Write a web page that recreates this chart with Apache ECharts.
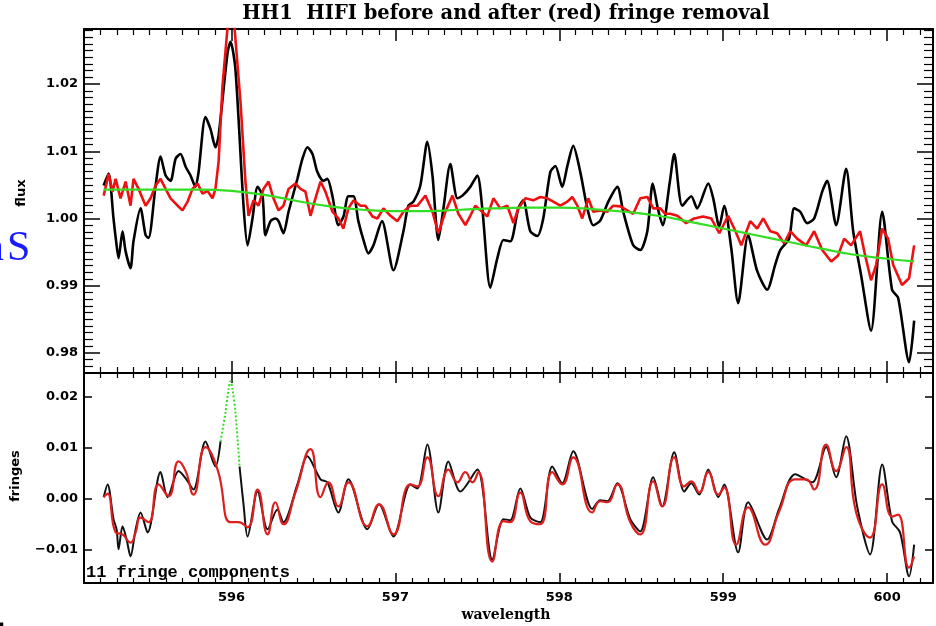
<!DOCTYPE html>
<html>
<head>
<meta charset="utf-8">
<title>HH1 HIFI fringe removal</title>
<script src="https://cdn.jsdelivr.net/npm/echarts@6/dist/echarts.min.js"></script>
<style>
  html, body { margin: 0; padding: 0; background: #fff; }
  #chart { width: 936px; height: 626px; }
</style>
</head>
<body>
<div id="chart"></div>
<script>
// tick labels
var waveTicks = [596, 597, 598, 599, 600];
var fluxTicks = [0.98, 0.99, 1.00, 1.01, 1.02];
var fringeTicks = [-0.01, 0.00, 0.01, 0.02];

// top panel: flux before fringe removal (black)
var fluxBefore = [
  [595.220, 1.0049], [595.250, 1.0067], [595.280, 1.0000], [595.296, 0.9966], [595.311, 0.9941],
  [595.335, 0.9981], [595.354, 0.9951], [595.384, 0.9926], [595.402, 0.9966], [595.445, 1.0015],
  [595.476, 0.9975], [595.494, 0.9971], [595.537, 1.0049], [595.567, 1.0092], [595.598, 1.0064],
  [595.628, 1.0056], [595.659, 1.0089], [595.689, 1.0096], [595.720, 1.0077], [595.750, 1.0064],
  [595.780, 1.0047], [595.799, 1.0069], [595.841, 1.0151], [595.872, 1.0133], [595.902, 1.0106],
  [595.921, 1.0123], [595.976, 1.0247], [595.994, 1.0263], [596.024, 1.0222], [596.073, 1.0020],
  [596.098, 0.9960], [596.128, 1.0000], [596.159, 1.0047], [596.189, 1.0034], [596.207, 0.9975],
  [596.238, 0.9996], [596.268, 1.0000], [596.287, 0.9996], [596.317, 0.9978], [596.348, 1.0010],
  [596.402, 1.0059], [596.433, 1.0089], [596.463, 1.0106], [596.494, 1.0096], [596.524, 1.0069],
  [596.561, 1.0056], [596.585, 1.0059], [596.616, 1.0033], [596.652, 0.9990], [596.683, 1.0003],
  [596.713, 1.0033], [596.744, 1.0033], [596.774, 0.9996], [596.805, 0.9968], [596.835, 0.9948],
  [596.866, 0.9960], [596.918, 0.9996], [596.988, 0.9923], [597.049, 0.9981], [597.079, 1.0019],
  [597.110, 1.0025], [597.152, 1.0049], [597.195, 1.0114], [597.226, 1.0064], [597.262, 0.9968],
  [597.293, 1.0015], [597.335, 1.0081], [597.378, 1.0030], [597.409, 1.0034], [597.457, 1.0047],
  [597.500, 1.0064], [597.530, 1.0015], [597.579, 0.9897], [597.622, 0.9941], [597.659, 0.9968],
  [597.701, 0.9966], [597.750, 1.0015], [597.780, 1.0027], [597.823, 0.9981], [597.866, 0.9974],
  [597.902, 1.0000], [597.945, 1.0069], [597.976, 1.0078], [598.018, 1.0047], [598.049, 1.0078],
  [598.085, 1.0108], [598.128, 1.0069], [598.171, 1.0015], [598.207, 0.9990], [598.250, 0.9997],
  [598.299, 1.0025], [598.354, 1.0047], [598.390, 1.0010], [598.451, 0.9960], [598.494, 0.9953],
  [598.537, 0.9981], [598.570, 1.0052], [598.601, 1.0015], [598.631, 0.9990], [598.674, 1.0054],
  [598.701, 1.0096], [598.750, 1.0019], [598.805, 1.0033], [598.841, 1.0015], [598.909, 1.0052],
  [598.939, 1.0030], [598.976, 0.9988], [599.006, 1.0019], [599.049, 0.9956], [599.091, 0.9874],
  [599.152, 0.9975], [599.207, 0.9922], [599.268, 0.9894], [599.317, 0.9931], [599.348, 0.9953],
  [599.402, 0.9970], [599.433, 1.0015], [599.470, 1.0010], [599.512, 0.9993], [599.555, 1.0000],
  [599.604, 1.0040], [599.634, 1.0056], [599.689, 0.9990], [599.750, 1.0074], [599.793, 0.9981],
  [599.841, 0.9916], [599.902, 0.9833], [599.970, 1.0010], [600.030, 0.9894], [600.067, 0.9882],
  [600.134, 0.9786], [600.165, 0.9848]
];

// top panel: flux after fringe removal (red)
var fluxAfter = [
  [595.220, 1.0034], [595.250, 1.0066], [595.274, 1.0040], [595.293, 1.0059], [595.323, 1.0030],
  [595.354, 1.0055], [595.384, 1.0019], [595.402, 1.0059], [595.433, 1.0044], [595.476, 1.0019],
  [595.506, 1.0030], [595.537, 1.0049], [595.567, 1.0059], [595.598, 1.0044], [595.628, 1.0030],
  [595.671, 1.0019], [595.701, 1.0012], [595.732, 1.0025], [595.762, 1.0044], [595.793, 1.0052],
  [595.823, 1.0037], [595.854, 1.0041], [595.884, 1.0030], [595.902, 1.0044], [595.921, 1.0084],
  [595.945, 1.0197], [595.976, 1.0285], [595.997, 1.0330], [596.018, 1.0285], [596.055, 1.0173],
  [596.085, 1.0055], [596.104, 1.0004], [596.134, 1.0027], [596.165, 1.0019], [596.195, 1.0044],
  [596.226, 1.0055], [596.256, 1.0030], [596.287, 1.0012], [596.317, 1.0019], [596.348, 1.0044],
  [596.390, 1.0052], [596.421, 1.0044], [596.451, 1.0040], [596.482, 1.0004], [596.512, 1.0030],
  [596.543, 1.0055], [596.573, 1.0040], [596.616, 1.0010], [596.652, 1.0000], [596.683, 0.9985],
  [596.713, 1.0015], [596.744, 1.0027], [596.787, 1.0019], [596.817, 1.0019], [596.860, 1.0003],
  [596.890, 1.0000], [596.927, 1.0015], [596.970, 1.0004], [597.012, 0.9996], [597.049, 1.0010],
  [597.091, 1.0019], [597.134, 1.0019], [597.183, 1.0034], [597.226, 1.0010], [597.262, 0.9978],
  [597.305, 1.0010], [597.348, 1.0034], [597.384, 1.0007], [597.427, 0.9990], [597.457, 1.0004],
  [597.488, 1.0019], [597.530, 1.0010], [597.561, 1.0003], [597.598, 1.0030], [597.640, 1.0015],
  [597.683, 1.0019], [597.720, 0.9993], [597.750, 1.0015], [597.793, 1.0030], [597.841, 1.0027],
  [597.884, 1.0032], [597.927, 1.0030], [597.963, 1.0025], [598.006, 1.0019], [598.049, 1.0025],
  [598.079, 1.0032], [598.110, 1.0019], [598.140, 1.0000], [598.177, 1.0030], [598.207, 1.0010],
  [598.250, 1.0012], [598.293, 1.0010], [598.329, 1.0019], [598.372, 1.0018], [598.415, 1.0012],
  [598.451, 1.0007], [598.494, 1.0030], [598.537, 1.0032], [598.573, 1.0015], [598.616, 1.0015],
  [598.646, 1.0007], [598.677, 1.0007], [598.720, 1.0004], [598.774, 0.9993], [598.823, 1.0000],
  [598.878, 1.0003], [598.927, 1.0000], [598.976, 0.9978], [599.030, 1.0004], [599.073, 0.9982],
  [599.110, 0.9960], [599.165, 0.9996], [599.207, 0.9985], [599.244, 1.0000], [599.287, 0.9981],
  [599.329, 0.9978], [599.372, 0.9963], [599.409, 0.9981], [599.451, 0.9970], [599.506, 0.9960],
  [599.555, 0.9981], [599.604, 0.9953], [599.659, 0.9936], [599.701, 0.9945], [599.738, 0.9970],
  [599.780, 0.9960], [599.835, 0.9981], [599.866, 0.9945], [599.902, 0.9908], [599.933, 0.9931],
  [599.970, 0.9985], [600.006, 0.9970], [600.037, 0.9931], [600.091, 0.9901], [600.134, 0.9911],
  [600.165, 0.9960]
];

// top panel: continuum baseline (green)
var baseline = [
  [595.22, 1.0043], [595.5, 1.0043], [595.8, 1.0043], [596.0, 1.0041], [596.2, 1.0035],
  [596.4, 1.0026], [596.6, 1.0018], [596.8, 1.0013], [597.0, 1.0011], [597.2, 1.0011],
  [597.4, 1.0013], [597.6, 1.0015], [597.8, 1.0016], [598.0, 1.0016], [598.2, 1.0014],
  [598.4, 1.0010], [598.6, 1.0004], [598.8, 0.9995], [599.0, 0.9985], [599.2, 0.9975],
  [599.4, 0.9965], [599.6, 0.9955], [599.8, 0.9946], [600.0, 0.9940], [600.165, 0.9936]
];

// bottom panel: measured fringes (black dots)
var fringeData = [
  [595.220, 0.0003], [595.244, 0.0028], [595.280, -0.0040], [595.299, -0.0060], [595.311, -0.0099],
  [595.335, -0.0054], [595.360, -0.0080], [595.384, -0.0113], [595.415, -0.0060], [595.445, -0.0027],
  [595.488, -0.0066], [595.567, 0.0052], [595.610, 0.0003], [595.677, 0.0054], [595.720, 0.0040],
  [595.768, 0.0018], [595.841, 0.0112], [595.902, 0.0063], [595.933, 0.0112]
];
var fringeData2 = [
  [596.049, 0.0063], [596.073, -0.0010], [596.098, -0.0074], [596.159, 0.0014], [596.220, -0.0060],
  [596.280, -0.0021], [596.317, -0.0046], [596.402, 0.0028], [596.463, 0.0083], [596.543, 0.0038],
  [596.585, 0.0032], [596.652, -0.0027], [596.713, 0.0038], [596.829, -0.0060], [596.900, -0.0011],
  [596.988, -0.0074], [597.091, 0.0028], [597.134, 0.0020], [597.195, 0.0106], [597.262, -0.0027],
  [597.323, 0.0073], [597.396, 0.0014], [597.500, 0.0057], [597.591, -0.0119], [597.659, -0.0040],
  [597.701, -0.0042], [597.762, 0.0020], [597.823, -0.0037], [597.884, -0.0046], [597.957, 0.0063],
  [598.018, 0.0030], [598.085, 0.0093], [598.201, -0.0020], [598.250, -0.0003], [598.293, -0.0005],
  [598.354, 0.0030], [598.433, -0.0040], [598.494, -0.0064], [598.573, 0.0042], [598.628, -0.0015],
  [598.701, 0.0091], [598.762, 0.0014], [598.805, 0.0030], [598.854, 0.0008], [598.909, 0.0057],
  [598.970, 0.0003], [599.006, 0.0028], [599.091, -0.0105], [599.152, -0.0007], [599.268, -0.0080],
  [599.341, -0.0020], [599.439, 0.0048], [599.543, 0.0032], [599.628, 0.0101], [599.689, 0.0042],
  [599.750, 0.0122], [599.817, -0.0015], [599.896, -0.0109], [599.970, 0.0067], [600.030, -0.0044],
  [600.079, -0.0066], [600.134, -0.0152], [600.165, -0.0090]
];
// bottom panel: masked line region (green dots)
var fringeMasked = [
  [595.933, 0.0112], [595.963, 0.0169], [595.982, 0.0214], [595.994, 0.0230],
  [596.006, 0.0214], [596.024, 0.0169], [596.049, 0.0063]
];

// bottom panel: 11-component fringe fit (red)
var fringeFit = [
  [595.220, 0.0003], [595.244, 0.0010], [595.293, -0.0066], [595.335, -0.0070], [595.384, -0.0086],
  [595.415, -0.0066], [595.445, -0.0037], [595.494, -0.0046], [595.555, 0.0028], [595.616, 0.0005],
  [595.677, 0.0073], [595.720, 0.0054], [595.768, 0.0008], [595.841, 0.0101], [595.915, 0.0057],
  [595.994, -0.0046], [596.043, -0.0046], [596.098, -0.0056], [596.159, 0.0018], [596.220, -0.0070],
  [596.268, -0.0007], [596.317, -0.0050], [596.390, 0.0012], [596.482, 0.0097], [596.543, 0.0003],
  [596.591, 0.0032], [596.652, -0.0015], [596.713, 0.0032], [596.829, -0.0054], [596.900, -0.0011],
  [596.988, -0.0070], [597.091, 0.0028], [597.134, 0.0024], [597.195, 0.0081], [597.262, 0.0005],
  [597.323, 0.0057], [597.378, 0.0032], [597.427, 0.0052], [597.470, 0.0032], [597.506, 0.0052],
  [597.591, -0.0123], [597.659, -0.0044], [597.701, -0.0046], [597.762, 0.0012], [597.823, -0.0044],
  [597.884, -0.0050], [597.957, 0.0052], [598.018, 0.0028], [598.085, 0.0081], [598.201, -0.0027],
  [598.250, -0.0005], [598.293, -0.0007], [598.354, 0.0028], [598.433, -0.0046], [598.494, -0.0070],
  [598.573, 0.0034], [598.628, -0.0015], [598.701, 0.0081], [598.762, 0.0024], [598.805, 0.0034],
  [598.854, 0.0012], [598.909, 0.0052], [598.970, 0.0008], [599.006, 0.0022], [599.079, -0.0090],
  [599.152, -0.0017], [599.256, -0.0090], [599.341, -0.0025], [599.439, 0.0038], [599.506, 0.0038],
  [599.555, 0.0018], [599.628, 0.0106], [599.689, 0.0054], [599.750, 0.0101], [599.811, -0.0027],
  [599.896, -0.0076], [599.970, 0.0028], [600.030, -0.0035], [600.067, -0.0031], [600.134, -0.0135],
  [600.165, -0.0113]
];

// axis extents
var waveMin = 595.1, waveMax = 600.28;
var fluxMin = 0.977, fluxMax = 1.0282;
var fringeMin = -0.0165, fringeMax = 0.0246;

var chart = echarts.init(document.getElementById('chart'));

function inList(list, v) {
  for (var i = 0; i < list.length; i++) {
    if (Math.abs(list[i] - v) < 1e-7) return true;
  }
  return false;
}

// one x and one y axis per grid; the mirrored top/right axes live on twin grids
function xAx(grid, pos, len, minorLen, labels) {
  return {
    type: 'value', gridIndex: grid, position: pos, min: waveMin, max: waveMax, splitNumber: 5,
    axisLine: { show: true, onZero: false, lineStyle: { color: '#000', width: 2 } },
    axisTick: { show: true, inside: true, length: len, lineStyle: { color: '#000', width: 1.5 } },
    minorTick: { show: true, splitNumber: 10, length: minorLen, lineStyle: { color: '#000', width: 1.2 } },
    axisLabel: {
      show: labels, margin: 8, color: '#000', fontFamily: 'DejaVu Sans', fontWeight: 'bold', fontSize: 13,
      formatter: function (v) { return inList(waveTicks, v) ? String(Math.round(v)) : ''; }
    },
    splitLine: { show: false }
  };
}

function yAx(grid, pos, min, max, len, minorLen, labels, ticks) {
  return {
    type: 'value', gridIndex: grid, position: pos, min: min, max: max, splitNumber: 5,
    axisLine: { show: true, onZero: false, lineStyle: { color: '#000', width: 2 } },
    axisTick: { show: true, inside: true, length: len, lineStyle: { color: '#000', width: 1.5 } },
    minorTick: { show: minorLen > 0, splitNumber: 10, length: minorLen, lineStyle: { color: '#000', width: 1.2 } },
    axisLabel: {
      show: labels, margin: 6, color: '#000', fontFamily: 'DejaVu Sans', fontWeight: 'bold', fontSize: 13,
      formatter: function (v) {
        if (!inList(ticks, v)) return '';
        return v.toFixed(2).replace('-', '\u2212').replace('\u22120.00', '0.00');
      }
    },
    splitLine: { show: false }
  };
}

var topRect = { left: 84, top: 29, width: 849, height: 344 };
var botRect = { left: 84, top: 373, width: 849, height: 210 };

chart.setOption({
  animation: false,
  backgroundColor: '#fff',
  grid: [topRect, botRect, topRect, botRect],
  xAxis: [
    xAx(0, 'bottom', 12, 6, false),
    xAx(1, 'bottom', 10, 5, true),
    xAx(2, 'top', 12, 6, false),
    xAx(3, 'top', 10, 5, false)
  ],
  yAxis: [
    yAx(0, 'left', fluxMin, fluxMax, 16, 9, true, fluxTicks),
    yAx(1, 'left', fringeMin, fringeMax, 8, 0, true, fringeTicks),
    yAx(2, 'right', fluxMin, fluxMax, 16, 9, false, fluxTicks),
    yAx(3, 'right', fringeMin, fringeMax, 8, 0, false, fringeTicks)
  ],
  series: [
    { type: 'line', xAxisIndex: 0, yAxisIndex: 0, data: fluxBefore, symbol: 'none', smooth: 0.25,
      lineStyle: { color: '#000', width: 2.6 }, silent: true },
    { type: 'line', xAxisIndex: 0, yAxisIndex: 0, data: fluxAfter, symbol: 'none',
      lineStyle: { color: '#ee1111', width: 2.6 }, silent: true },
    { type: 'line', xAxisIndex: 0, yAxisIndex: 0, data: baseline, symbol: 'none', smooth: true,
      lineStyle: { color: '#33dd22', width: 2.2 }, silent: true },
    { type: 'line', xAxisIndex: 1, yAxisIndex: 1, data: fringeData, symbol: 'none', smooth: 0.3,
      lineStyle: { color: '#111', width: 2 }, silent: true },
    { type: 'line', xAxisIndex: 1, yAxisIndex: 1, data: fringeData2, symbol: 'none', smooth: 0.3,
      lineStyle: { color: '#111', width: 2 }, silent: true },
    { type: 'line', xAxisIndex: 1, yAxisIndex: 1, data: fringeMasked, symbol: 'none', smooth: 0.3,
      lineStyle: { color: '#33dd22', width: 2, type: [2, 2] }, silent: true },
    { type: 'line', xAxisIndex: 1, yAxisIndex: 1, data: fringeFit, symbol: 'none', smooth: 0.5,
      lineStyle: { color: '#dd1f1f', width: 2.2 }, silent: true }
  ],
  graphic: [
    { type: 'text', x: 506, y: 14, style: {
        text: 'HH1  HIFI before and after (red) fringe removal',
        font: 'bold 19.5px "DejaVu Serif"', fill: '#000', align: 'center', verticalAlign: 'middle' } },
    { type: 'text', x: 22, y: 193, rotation: Math.PI / 2, style: {
        text: 'flux', font: 'bold 13px "DejaVu Sans"', fill: '#000', align: 'center', verticalAlign: 'middle' } },
    { type: 'text', x: 16, y: 476, rotation: Math.PI / 2, style: {
        text: 'fringes', font: 'bold 13px "DejaVu Sans"', fill: '#000', align: 'center', verticalAlign: 'middle' } },
    { type: 'text', x: 506, y: 615, style: {
        text: 'wavelength', font: 'bold 14px "DejaVu Serif"', fill: '#000', align: 'center', verticalAlign: 'middle' } },
    { type: 'text', x: 86, y: 573, style: {
        text: '11 fringe components', font: 'bold 17px "Liberation Mono"', fill: '#000', align: 'left', verticalAlign: 'middle' } },
    { type: 'text', x: -17, y: 249, style: {
        text: 'n', font: '42px "Liberation Serif"', fill: '#1a1aff', align: 'left', verticalAlign: 'middle' } },
    { type: 'text', x: 7, y: 249, style: {
        text: 'S', font: '42px "Liberation Serif"', fill: '#1a1aff', align: 'left', verticalAlign: 'middle' } },
    { type: 'text', x: -14, y: 640, style: {
        text: 'd', font: '40px "Liberation Serif"', fill: '#000', align: 'left', verticalAlign: 'middle' } }
  ]
});
</script>
</body>
</html>
